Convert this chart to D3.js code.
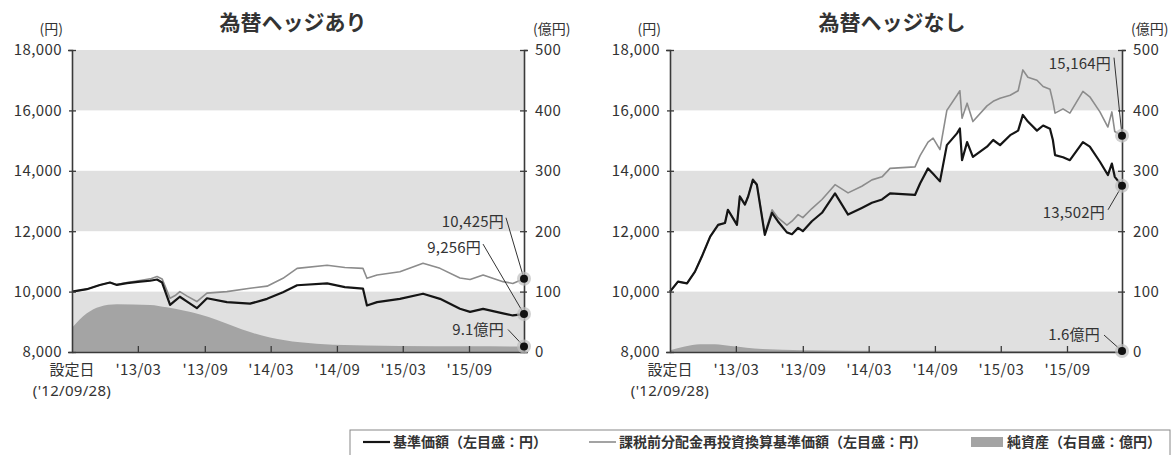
<!DOCTYPE html>
<html>
<head>
<meta charset="utf-8">
<script src="https://cdn.jsdelivr.net/npm/d3@7"></script>
<style>
  html, body { margin: 0; padding: 0; background: #fff; }
  text { font-family: "Noto Sans CJK JP", "Noto Sans", sans-serif; fill: #333; }
</style>
</head>
<body>
<div id="chartArea"></div>
<script>
// ---- data ----

// 為替ヘッジあり
var hedgedDates = ["2012-09-28","2012-11-08","2012-12-14","2013-01-11","2013-01-30","2013-02-27","2013-04-04","2013-05-02","2013-05-21","2013-06-04",
    "2013-06-26","2013-07-10","2013-07-23","2013-08-12","2013-09-08","2013-10-06","2013-11-30","2014-02-02","2014-03-21","2014-05-04",
    "2014-06-12","2014-09-03","2014-10-22","2014-12-11","2014-12-22","2015-01-19","2015-03-23","2015-05-26","2015-07-12","2015-09-05",
    "2015-10-03","2015-11-08","2016-01-02","2016-01-29","2016-02-29"];
var hedgedNav = [10000,10080,10220,10300,10220,10280,10330,10360,10400,10300,
    9560,9700,9830,9670,9450,9780,9650,9600,9760,9980,
    10210,10270,10150,10100,9540,9650,9760,9930,9760,9430,
    9330,9430,9280,9210,9256];
var hedgedNavReinv = [10000,10080,10220,10300,10230,10300,10370,10420,10500,10420,
    9780,9870,10000,9850,9670,9950,10000,10110,10180,10440,
    10770,10870,10800,10770,10440,10550,10660,10940,10770,10450,
    10400,10550,10330,10270,10425];
var hedgedAssetDates = ["2012-09-28","2012-11-08","2012-12-14","2013-01-30","2013-05-02","2013-06-17","2013-09-17","2013-11-03","2013-12-17","2014-02-02",
    "2014-03-29","2014-06-20","2014-09-19","2015-03-23","2015-10-03","2016-02-29"];
var hedgedAssets = [40,64,75,79,78,74,62,53,43,33,
    24,16,12,10,9.5,9.1];

// 為替ヘッジなし
var openDates = ["2012-09-28","2012-10-20","2012-11-14","2012-12-06","2012-12-25","2013-01-17","2013-02-08","2013-02-27","2013-03-07","2013-04-01",
    "2013-04-09","2013-04-23","2013-05-02","2013-05-15","2013-05-26","2013-06-17","2013-07-07","2013-07-23","2013-08-17","2013-08-31",
    "2013-09-17","2013-09-30","2013-10-25","2013-11-22","2013-12-28","2014-02-02","2014-03-12","2014-04-09","2014-05-07","2014-05-29",
    "2014-08-06","2014-08-20","2014-09-11","2014-09-25","2014-10-14","2014-11-02","2014-11-30","2014-12-08","2014-12-14","2014-12-28",
    "2015-01-13","2015-02-21","2015-03-10","2015-03-29","2015-04-26","2015-05-18","2015-05-31","2015-06-14","2015-07-09","2015-07-26",
    "2015-08-14","2015-08-22","2015-08-28","2015-09-19","2015-10-08","2015-11-13","2015-12-02","2015-12-30","2016-01-21","2016-02-01",
    "2016-02-09","2016-02-29"];
var openNav = [10000,10330,10270,10660,11160,11820,12210,12270,12710,12210,
    13150,12880,13150,13700,13540,11880,12610,12330,11960,11900,
    12110,12000,12330,12610,13250,12550,12770,12940,13050,13250,
    13200,13580,14080,13900,13650,14850,15240,15400,14350,14950,
    14460,14800,15020,14850,15180,15330,15850,15630,15330,15500,
    15390,15020,14520,14450,14350,14950,14800,14300,13860,14240,
    13800,13502];
var openNavReinv = [10000,10330,10270,10660,11160,11820,12210,12270,12710,12230,
    13170,12900,13170,13730,13570,11920,12710,12450,12200,12330,
    12550,12450,12750,13050,13540,13270,13490,13700,13800,14080,
    14130,14500,14950,15080,14700,16000,16500,16650,15740,16240,
    15630,16150,16300,16400,16500,16650,17340,17100,17000,16790,
    16700,16300,15910,16050,15910,16630,16450,15950,15450,15950,
    15300,15164];
var openAssetDates = ["2012-09-28","2012-11-08","2012-12-20","2013-01-30","2013-03-15","2013-06-10","2013-09-30","2014-06-30","2016-02-29"];
var openAssets = [3,9,13,13,10,5,3,2,1.6];

// axes
var navTicks = [8000,10000,12000,14000,16000,18000];
var assetTicks = [0,100,200,300,400,500];
var bandRanges = [[8000,10000],[12000,14000],[16000,18000]];
var xTickDates = ["2013-03-29","2013-09-30","2014-03-31","2014-09-30","2015-03-31","2015-09-30"];
var startDate = "2012-09-28", endDate = "2016-02-29";

// end labels
var hedgedLabels = ["10,425円","9,256円","9.1億円"];
var openLabels = ["15,164円","13,502円","1.6億円"];

var legendLabels = ["基準価額（左目盛：円）","課税前分配金再投資換算基準価額（左目盛：円）","純資産（右目盛：億円）"];

// ---- drawing ----
var parseDate = d3.timeParse("%Y-%m-%d");
var width = 1175, height = 455;
var plotW = 452, plotH = 302;

var svg = d3.select("#chartArea").append("svg")
    .attr("width", width)
    .attr("height", height);

function drawPanel(opts) {
    var g = svg.append("g").attr("transform", "translate(" + opts.left + "," + opts.top + ")");

    var x = d3.scaleTime().domain([parseDate(startDate), parseDate(endDate)]).range([0, plotW]);
    var yL = d3.scaleLinear().domain([8000, 18000]).range([plotH, 0]);
    var yR = d3.scaleLinear().domain([0, 500]).range([plotH, 0]);

    // grey bands
    g.selectAll("rect.band").data(bandRanges).enter().append("rect")
        .attr("class", "band")
        .attr("x", 0)
        .attr("width", plotW)
        .attr("y", function (d) { return yL(d[1]); })
        .attr("height", function (d) { return yL(d[0]) - yL(d[1]); })
        .attr("fill", "#e0e0e0");

    // net assets area (right scale)
    var assets = opts.assetDates.map(function (d, i) { return { date: parseDate(d), v: opts.assets[i] }; });
    g.append("path")
        .datum(assets)
        .attr("fill", "#a4a4a4")
        .attr("d", d3.area().x(function (d) { return x(d.date); }).y0(plotH).y1(function (d) { return yR(d.v); }).curve(d3.curveMonotoneX));

    var reinv = opts.dates.map(function (d, i) { return { date: parseDate(d), v: opts.reinv[i] }; });
    var nav = opts.dates.map(function (d, i) { return { date: parseDate(d), v: opts.nav[i] }; });
    var line = d3.line().x(function (d) { return x(d.date); }).y(function (d) { return yL(d.v); });

    g.append("path").datum(reinv)
        .attr("fill", "none").attr("stroke", "#8c8c8c").attr("stroke-width", 1.6)
        .attr("stroke-linejoin", "round")
        .attr("d", line);
    g.append("path").datum(nav)
        .attr("fill", "none").attr("stroke", "#151515").attr("stroke-width", 2.2)
        .attr("stroke-linejoin", "round")
        .attr("d", line);

    // axes
    var axL = g.append("g").call(d3.axisLeft(yL).tickValues(navTicks).tickFormat(d3.format(",")).tickSize(4).tickPadding(6));
    var axR = g.append("g").attr("transform", "translate(" + plotW + ",0)")
        .call(d3.axisRight(yR).tickValues(assetTicks).tickSize(4).tickPadding(7));
    var axB = g.append("g").attr("transform", "translate(0," + plotH + ")")
        .call(d3.axisBottom(x).tickValues(xTickDates.map(parseDate))
            .tickFormat(function (d) { return "'" + d3.timeFormat("%y/%m")(d); })
            .tickSizeInner(-6).tickSizeOuter(0).tickPadding(9));

    [axL, axR, axB].forEach(function (a) {
        a.select(".domain").attr("stroke", "#3a3a3a").attr("stroke-width", 1.6);
        a.selectAll(".tick line").attr("stroke", "#3a3a3a").attr("stroke-width", 1.3);
        a.selectAll(".tick text").style("font-size", "15px").attr("fill", "#333").style("letter-spacing", "0.4px");
    });
    axL.selectAll(".tick line").attr("x2", 4).attr("x1", -3);
    axR.selectAll(".tick line").attr("x1", -4).attr("x2", 3);
    axB.selectAll(".tick text").attr("dy", "0.9em");

    // start date label
    g.append("text").attr("x", 0).attr("y", plotH + 23).attr("text-anchor", "middle")
        .style("font-size", "15px").text("設定日");
    g.append("text").attr("x", 0).attr("y", plotH + 44).attr("text-anchor", "middle")
        .style("font-family", "'Noto Sans', sans-serif").style("font-size", "15px").style("letter-spacing", "0.3px")
        .text("('12/09/28)");

    // units
    g.append("text").attr("x", -9).attr("y", -16).attr("text-anchor", "end")
        .style("font-size", "14px").text("(円)");
    g.append("text").attr("x", plotW + 9).attr("y", -16).attr("text-anchor", "start")
        .style("font-size", "14px").text("(億円)");

    // title
    g.append("text").attr("x", opts.titleX).attr("y", -20).attr("text-anchor", "middle")
        .style("font-size", "21px").style("font-weight", "bold").attr("fill", "#4a4a4a").text(opts.title);

    // end point markers + labels
    var lastIdx = opts.dates.length - 1;
    var ends = [
        { px: x(reinv[lastIdx].date), py: yL(reinv[lastIdx].v) },
        { px: x(nav[lastIdx].date), py: yL(nav[lastIdx].v) },
        { px: x(assets[assets.length - 1].date), py: yR(assets[assets.length - 1].v) }
    ];
    ends.forEach(function (e, i) {
        var o = opts.labelOffsets[i];
        g.append("line")
            .attr("x1", e.px + o[0] + o[2]).attr("y1", e.py + o[1] + o[3])
            .attr("x2", e.px).attr("y2", e.py)
            .attr("stroke", "#333").attr("stroke-width", 1);
        g.append("circle").attr("cx", e.px).attr("cy", e.py).attr("r", 7)
            .attr("fill", "#bdbdbd").attr("fill-opacity", 0.7);
        g.append("circle").attr("cx", e.px).attr("cy", e.py).attr("r", 4).attr("fill", "#111");
        g.append("text")
            .attr("x", e.px + o[0]).attr("y", e.py + o[1])
            .attr("dy", "0.35em").attr("text-anchor", "end")
            .style("font-size", "15px").style("letter-spacing", "0.2px")
            .text(opts.labels[i]);
    });
}

drawPanel({
    left: 72, top: 50, title: "為替ヘッジあり", titleX: 221,
    dates: hedgedDates, nav: hedgedNav, reinv: hedgedNavReinv,
    assetDates: hedgedAssetDates, assets: hedgedAssets,
    labels: hedgedLabels,
    // [label dx, label dy, leader start dx, leader start dy] relative to the end point
    labelOffsets: [[-20, -57, 2, -4], [-43, -66, 2, -4], [-20, -17, 4, 0]]
});

drawPanel({
    left: 670, top: 50, title: "為替ヘッジなし", titleX: 222,
    dates: openDates, nav: openNav, reinv: openNavReinv,
    assetDates: openAssetDates, assets: openAssets,
    labels: openLabels,
    labelOffsets: [[-11, -72, 3, -6], [-17, 27, 3, -3], [-22, -16, 4, 0]]
});

// legend
var legend = svg.append("g").attr("transform", "translate(350,430)");
legend.append("rect").attr("x", 0).attr("y", 0).attr("width", 820).attr("height", 30)
    .attr("fill", "#fff").attr("stroke", "#888").attr("stroke-width", 1);
var legendItems = [
    { x: 13, type: "line", color: "#151515", w: 2.2 },
    { x: 239, type: "line", color: "#8c8c8c", w: 1.6 },
    { x: 621, type: "rect", color: "#a4a4a4" }
];
legendItems.forEach(function (it, i) {
    if (it.type == "line") {
        legend.append("line").attr("x1", it.x).attr("x2", it.x + 27).attr("y1", 12).attr("y2", 12)
            .attr("stroke", it.color).attr("stroke-width", it.w);
    } else {
        legend.append("rect").attr("x", it.x).attr("y", 7).attr("width", 32).attr("height", 10).attr("fill", it.color);
    }
    legend.append("text").attr("x", it.x + (it.type == "line" ? 30 : 36)).attr("y", 12).attr("dy", "0.35em")
        .style("font-size", "14px").style("font-weight", "bold").attr("fill", "#444").text(legendLabels[i]);
});
</script>
</body>
</html>
